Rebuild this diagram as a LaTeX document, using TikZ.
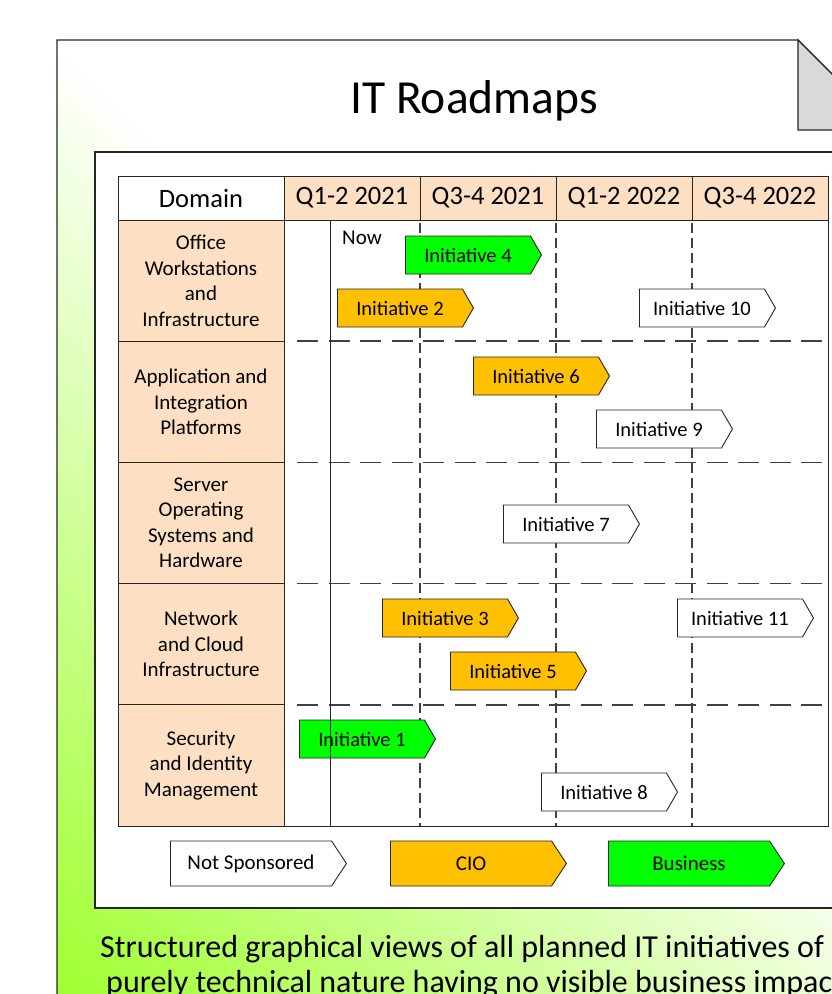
\documentclass[tikz,border=0pt]{standalone}
\usepackage{fontspec}
\setmainfont{Carlito}
\usetikzlibrary{shapes.symbols}

\definecolor{cardgreen}{RGB}{150,255,28}
\definecolor{peach}{RGB}{253,224,196}
\definecolor{cio}{RGB}{255,192,0}
\definecolor{biz}{RGB}{0,255,0}
\definecolor{foldgrey}{RGB}{217,217,217}
\definecolor{ink}{RGB}{38,38,38}
\definecolor{dashgrey}{RGB}{64,64,64}

% soft green wash of the card, fading to white
\pgfdeclarehorizontalshading{cardfade}{100bp}{color(0bp)=(cardgreen); color(25bp)=(cardgreen); color(75bp)=(white); color(100bp)=(white)}

\newcommand\setfs[2]{\fontsize{#1pt}{#2pt}\selectfont}

\begin{document}
\begin{tikzpicture}[x=1pt,y=-1pt,
  cellhead/.style={draw=ink, line width=0.9pt, minimum height=44pt, minimum width=136pt, inner sep=0pt, font=\setfs{26.5}{30}},
  celldomain/.style={draw=ink, fill=peach, line width=0.9pt, minimum width=166pt, minimum height=121.2pt, align=center, inner sep=0pt, font=\setfs{21}{25.5}},
  roadarrow/.style={signal, signal to=east, signal pointer angle=120, minimum width=136pt, minimum height=38pt, inner sep=0pt, draw=ink, line width=0.9pt, anchor=west, font=\setfs{20.5}{24}},
  legendarrow/.style={signal, signal to=east, signal pointer angle=113, minimum width=176pt, minimum height=45pt, inner sep=0pt, draw=ink, line width=0.9pt, anchor=west, font=\setfs{21}{25}},
  rowsep/.style={dashgrey, line width=1.5pt, dash pattern=on 21pt off 10.5pt},
  colsep/.style={dashgrey, line width=1.2pt, dash pattern=on 10pt off 5pt},
  nowline/.style={ink, line width=0.9pt}
]
\useasboundingbox (0,0) rectangle (832,994);
\clip (0,0) rectangle (832,994);

% card with folded corner
\begin{scope}
  \clip (57,40) -- (798,40) -- (888,130) -- (888,1040) -- (57,1040) -- cycle;
  \fill[white] (0,0) rectangle (900,1100);
  \shade[shading=cardfade, transform canvas={shift={(57,1030)}, rotate=45}] (-40,-1600) rectangle (700,1600);
\end{scope}
\draw[ink, line width=1.3pt] (57,40) -- (798,40) -- (888,130) -- (888,1040) -- (57,1040) -- cycle;
\filldraw[fill=foldgrey, draw=ink, line width=1.1pt] (798,40) -- (888,130) -- (798,130) -- cycle;

\node[font=\setfs{47.5}{56}, anchor=base, inner sep=0pt] (title) at (474,113) {IT Roadmaps};

% white panel holding the roadmap
\draw[fill=white, draw=ink, line width=1.5pt] (95,152) rectangle (850,908);

% header row
\node[cellhead, fill=white, minimum width=166pt] (hdom) at (201,198) {Domain};
\node[cellhead, fill=peach] (q1) at (352,198) {Q1-2 2021};
\node[cellhead, fill=peach] (q2) at (488,198) {Q3-4 2021};
\node[cellhead, fill=peach] (q3) at (624,198) {Q1-2 2022};
\node[cellhead, fill=peach] (q4) at (760,198) {Q3-4 2022};

% domain column
\node[celldomain] (d1) at (201,280.6) {Office\\Workstations\\and\\Infrastructure};
\node[celldomain] (d2) at (201,401.8) {Application and\\Integration\\Platforms};
\node[celldomain] (d3) at (201,523) {Server\\Operating\\Systems and\\Hardware};
\node[celldomain] (d4) at (201,644.2) {Network\\and Cloud\\Infrastructure};
\node[celldomain] (d5) at (201,765.4) {Security\\and Identity\\Management};

% timeline area
\draw[ink, line width=0.9pt] (284,220) rectangle (828,826);
\foreach \yy in {341.2,462.4,583.6,704.8}
  \draw[rowsep] (297,\yy) -- (828,\yy);
\foreach \xx in {420,556,692}
  \draw[colsep] (\xx,223) -- (\xx,826);

% initiatives
\node[roadarrow, fill=biz]   (i4)  at (405,255) {Initiative 4};
\node[roadarrow, fill=cio]   (i2)  at (337,308) {Initiative 2};
\node[roadarrow, fill=white] (i10) at (639,308) {Initiative 10};
\node[roadarrow, fill=cio]   (i6)  at (473,376) {Initiative 6};
\node[roadarrow, fill=white] (i9)  at (596,429) {Initiative 9};
\node[roadarrow, fill=white] (i7)  at (503,524) {Initiative 7};
\node[roadarrow, fill=cio]   (i3)  at (382,618) {Initiative 3};
\node[roadarrow, fill=white] (i11) at (677,618) {Initiative 11};
\node[roadarrow, fill=cio]   (i5)  at (450,671) {Initiative 5};
\node[roadarrow, fill=biz]   (i1)  at (299,739) {Initiative 1};
\node[roadarrow, fill=white] (i8)  at (541,792) {Initiative 8};

% current date marker
\draw[nowline] (330,220) -- (330,826);
\node[font=\setfs{21}{25}, anchor=base, inner sep=0pt] (now) at (362,244) {Now};

% legend
\node[legendarrow, fill=white] (lgns)  at (170,863.5) {Not Sponsored};
\node[legendarrow, fill=cio]   (lgcio) at (390,863.5) {CIO};
\node[legendarrow, fill=biz]   (lgbiz) at (608,863.5) {Business};

% summary text
\node[font=\setfs{32}{36}, anchor=base west, inner sep=0pt] (sum1) at (100,957) {Structured graphical views of all planned IT initiatives of};
\node[font=\setfs{32}{36}, anchor=base west, inner sep=0pt] (sum2) at (106,992) {purely technical nature having no visible business impact};
\end{tikzpicture}
\end{document}
